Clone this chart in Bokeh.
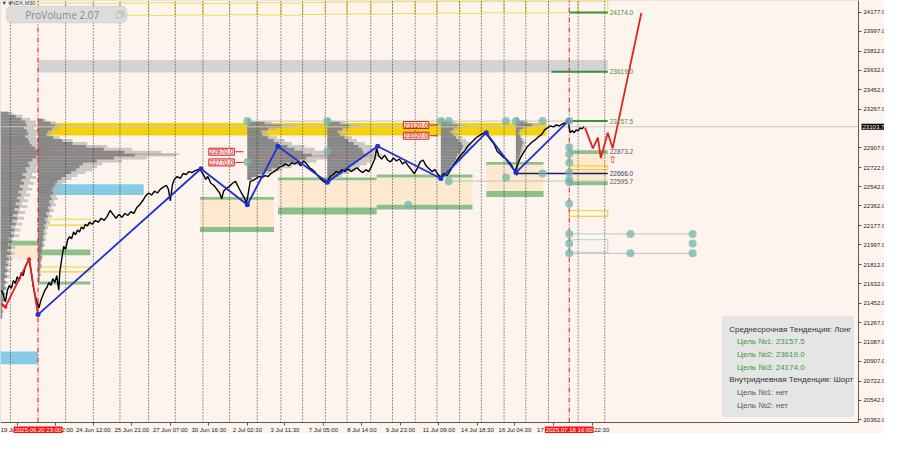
from bokeh.plotting import figure
from bokeh.models import Range1d, FixedTicker, PrintfTickFormatter, Label, BoxAnnotation, LinearAxis
from bokeh.core.properties import value
from bokeh.embed import file_html
from bokeh.resources import INLINE

# ---------------- data ----------------
time_tick_bar = [19, 58, 96, 135, 174, 213, 252, 290, 329, 368, 407, 446, 485, 523, 562, 602]
time_tick_label = ["19 Jun 2025", "23 Jun 02:00", "24 Jun 12:00", "25 Jun 21:00", "27 Jun 07:00",
                   "30 Jun 16:30", "2 Jul 02:30", "3 Jul 11:30", "7 Jul 05:00", "8 Jul 14:00",
                   "9 Jul 23:00", "11 Jul 09:00", "14 Jul 18:30", "16 Jul 04:30", "17 Jul 14:30",
                   "18 Jul 22:30"]
price_ticks = [20362, 20542, 20722, 20907, 21087, 21267, 21452, 21632, 21812, 21997, 22177,
               22362, 22542, 22722, 22907, 23267, 23452, 23632, 23812, 23997, 24177]
current_price = 23103.7

day_sep_bar = [12, 68, 96, 123, 152, 179, 207, 234, 262, 286, 308, 331, 353, 377, 399, 422,
               444, 467, 489, 512, 534, 557, 587, 614]
session_bar = [40, 578]
session_label = ["2025.06.20 23:00", "2025.07.18 16:00"]

close_bar = [3, 5, 7, 9, 11, 13, 15, 17, 19, 21, 23, 25, 27, 29, 31, 33, 35, 37, 39, 41, 43, 45, 47, 49, 51, 53, 55, 57, 59, 61,
             62, 64, 66, 68, 70, 72, 74, 76, 78, 80, 82, 84, 86, 88, 90, 92,
             95, 98, 101, 104, 107, 110, 113, 116, 119, 122, 125, 128, 131, 134, 137, 140, 143, 146, 149, 152, 155, 158, 161, 164, 167, 170,
             172, 174, 176, 178,
             181, 184, 187, 190, 193, 196, 199, 202, 205, 208,
             210, 212, 215, 218, 221, 224, 226, 228,
             231, 234, 237, 240, 243, 246, 249, 251, 253, 255,
             258, 261, 264, 267, 270, 273, 276, 279, 282, 285, 288, 291, 294, 297, 300, 303, 306, 309, 312, 315,
             318, 321, 324, 327, 330, 333, 336, 339, 342, 345, 348, 351, 354, 357, 360, 363, 366, 369, 372, 375, 378, 381,
             383, 385,
             388, 391, 394, 397, 400, 403, 406, 409, 412, 415, 418, 421, 424, 427, 430, 433, 436, 439, 442, 445,
             448, 451, 454, 457, 460, 463, 466, 469, 472, 475, 478, 481, 484, 487, 490, 493, 496, 499, 502, 505,
             508, 511, 514, 517, 520, 523, 526, 529, 532, 535, 538, 541, 544, 547, 550, 553, 556, 559, 562, 565,
             568, 571, 574, 577,
             579, 581, 583, 585, 587, 589, 591, 593]
close_px = [21573, 21527, 21464, 21573, 21618, 21591, 21664, 21637, 21700, 21664, 21737, 21710, 21791, 21828, 21864,
            21755, 21618, 21527, 21464, 21409, 21482, 21527, 21573, 21600, 21646, 21618, 21682, 21646, 21710, 21573,
            21737, 21864, 21983, 21955, 22046, 22074, 22056, 22119, 22092, 22137, 22119, 22165, 22147, 22192, 22174, 22210,
            22192, 22228, 22210, 22247, 22228, 22265, 22320, 22283, 22247, 22283, 22256, 22292, 22274, 22310, 22292, 22347,
            22374, 22411, 22456, 22484, 22465, 22502, 22484, 22520, 22538, 22556,
            22520, 22411, 22556, 22611,
            22638, 22620, 22666, 22657, 22684, 22675, 22693, 22702, 22693, 22647,
            22611, 22638, 22575, 22556, 22520, 22484, 22429, 22502,
            22529, 22547, 22575, 22593, 22538, 22484, 22438, 22383, 22484, 22593,
            22602, 22620, 22638, 22629, 22647, 22638, 22666, 22684, 22702, 22729, 22738, 22757, 22738, 22766, 22757,
            22775, 22738, 22784, 22757, 22720, 22702, 22675, 22638, 22611, 22584, 22593, 22638, 22657, 22684, 22675,
            22702, 22684, 22711, 22684, 22702, 22720, 22693, 22675, 22702, 22684, 22738, 22802,
            22902, 22830,
            22802, 22839, 22793, 22775, 22811, 22784, 22802, 22757, 22775, 22738, 22702, 22666, 22711, 22775, 22793,
            22738, 22711, 22684, 22702, 22657, 22629, 22666, 22647, 22684, 22738, 22775, 22811, 22848, 22875, 22921,
            22948, 22975, 23003, 23021, 23039, 23048, 23012, 22975, 22939, 22875, 22848, 22820, 22802, 22775, 22738,
            22684, 22757, 22820, 22866, 22911, 22939, 22966, 22984, 23012, 23030, 23075, 23094, 23112, 23103, 23121,
            23112, 23130, 23139, 23148,
            23048, 23066, 23048, 23075, 23066, 23094, 23084, 23104]

zz_blue_bar = [40, 205, 252, 283, 333, 384, 448, 494, 524, 577]
zz_blue_px = [21345, 22711, 22374, 22921, 22584, 22921, 22620, 23048, 22675, 23157]
zz_red_hist_bar = [3, 7, 31, 40]
zz_red_hist_px = [21446, 21418, 21864, 21345]
red_dot_bar = [7, 31]
red_dot_px = [21418, 21864]
zz_red_proj_bar = [594, 602, 607, 610, 617, 622, 651]
zz_red_proj_px = [23094, 22902, 23003, 22811, 23048, 22902, 24168]
arrow_bar = [622]
arrow_px = [22802]

# volume profiles: anchor bar, top price level, row step, row widths (bars)
prof_step = 27.3
profA_anchor, profA_top = 2, 23230
profA_w = [12, 22, 30, 36, 38, 34, 38, 40, 36, 40, 42, 45, 50, 55, 60, 52, 46, 40, 42, 36, 38, 32, 36, 30, 34, 28,
           32, 26, 30, 24, 28, 22, 27, 20, 25, 18, 24, 17, 22, 15, 20, 14, 19, 12, 17, 11, 15, 10, 14, 9, 12, 8, 11,
           7, 10, 6, 9, 5, 8, 5, 7, 4, 6, 3, 5, 3, 4, 2, 3, 2, 2]
profB_anchor, profB_top = 40, 23166
profB_w = [8, 18, 24, 20, 14, 12, 22, 35, 50, 70, 95, 125, 140, 110, 85, 65, 60, 55, 48, 40, 34, 28, 25, 22, 20, 22,
           18, 20, 16, 18, 14, 16, 12, 14, 10, 12, 9, 10, 8, 9, 7, 8, 6, 7, 5, 6, 4, 5, 4, 3, 4, 3, 2, 3, 2, 2, 1]
profC_anchor, profC_top = 252, 23166
profC_w = [4, 25, 48, 30, 20, 22, 30, 38, 45, 58, 68, 80, 93, 85, 70, 55, 45, 35, 25, 15, 6]
profD_anchor, profD_top = 333, 23166
profD_w = [3, 18, 32, 22, 15, 18, 25, 30, 38, 45, 50, 52, 55, 50, 45, 40, 33, 28, 22, 15, 9, 4]
profE_anchor, profE_top = 448, 23166
profE_w = [3, 15, 25, 18, 14, 18, 22, 26, 30, 32, 30, 28, 24, 22, 20, 17, 14, 11, 7, 4]
profF_anchor, profF_top = 524, 23175
profF_w = [3, 12, 23, 10, 5, 4, 6, 8, 10, 9, 8, 7, 6, 5, 4, 4, 3, 3, 2, 2]

# zones: left bar, right bar, top price, bottom price
beige_l = [2, 204, 283, 383, 494, 578]
beige_r = [40, 279, 383, 480, 552, 617]
beige_t = [21992, 22420, 22602, 22629, 22748, 22873]
beige_b = [21864, 22165, 22347, 22374, 22502, 22580]

green_l = [2, 40, 40, 204, 204, 283, 283, 383, 383, 494, 494, 578, 578]
green_r = [40, 93, 93, 279, 279, 383, 383, 480, 480, 552, 552, 617, 617]
green_t = [22037, 21955, 21655, 22447, 22165, 22629, 22347, 22657, 22374, 22775, 22502, 22884, 22593]
green_b = [21992, 21901, 21628, 22420, 22119, 22602, 22283, 22629, 22329, 22748, 22447, 22850, 22556]

sky_l = [40, 2]
sky_r = [147, 40]
sky_t = [22565, 21000]
sky_b = [22465, 20881]

gold_l, gold_r, gold_t, gold_b = [40], [555], [23139], [23021]
grayband_l, grayband_r, grayband_t, grayband_b = [40], [617], [23728], [23612]

ybox_l = [40, 40, 578, 578]
ybox_r = [93, 93, 617, 617]
ybox_t = [22238, 21791, 22738, 22320]
ybox_b = [22183, 21746, 22702, 22265]
bbox_l, bbox_r, bbox_t, bbox_b = [578], [617], [22046], [21928]

day_box_edges = [40, 68, 96, 123, 152, 179, 207, 234, 262, 286, 308, 331, 353, 377, 399, 422, 444, 467,
                 489, 512, 534, 557, 587, 617]
day_box_hi = [24262, 24262, 24258, 24262, 24265, 24262, 24258, 24262, 24265, 24262, 24268, 24270, 24272,
              24270, 24275, 24272, 24278, 24276, 24280, 24280, 24278, 24280, 24280]
day_box_lo = [24150, 24145, 24150, 24148, 24145, 24150, 24148, 24152, 24150, 24148, 24155, 24158, 24160,
              24158, 24165, 24160, 24168, 24165, 24172, 24170, 24168, 24172, 24170]

node_bar = [252, 252, 333, 333, 448, 456, 456, 415, 514, 524, 551, 514, 551, 578, 578, 578, 578, 578, 578,
            578, 578, 578, 640, 703, 578, 703, 578, 640, 703]
node_px = [23157, 22775, 23157, 22875, 23157, 23157, 22593, 22374, 23157, 23157, 23157, 22629, 22666, 23157,
           22911, 22848, 22766, 22675, 22611, 22584, 22383, 22101, 22101, 22101, 22010, 22010, 21919, 21919, 21919]

thin_x0 = [578, 578, 455, 252]
thin_x1 = [703, 703, 617, 578]
thin_px = [22101, 21919, 22595.7, 23157]
poc_x0 = [2, 252]
poc_x1 = [183, 380]
poc_px = [22848, 22830]

target_x0 = [578, 560, 578]
target_x1 = [617, 617, 617]
target_px = [24174.0, 23619.0, 23157.5]
level_px = [24174.0, 23619.0, 23157.5, 22873.2, 22666.0, 22595.7]
level_color = ["#3c8f3c", "#3c8f3c", "#3c8f3c", "#555555", "#3a3a6a", "#555555"]
navy_x0, navy_x1, navy_px = [524], [617], [22666.0]
level_label_bar = 619

mark_bar = [213, 213, 410, 410]
mark_px = [22870.0, 22770.0, 23120.0, 23020.0]

info_lines = ["Среднесрочная Тенденция: Лонг", "Цель №1: 23157.5", "Цель №2: 23619.0", "Цель №3: 24174.0",
              "Внутридневная Тенденция: Шорт", "Цель №1: нет", "Цель №2: нет"]

# ---------------- styling / layout ----------------
BG = "#fdf4ee"
FONT = "Liberation Sans"
CHART_L, CHART_R = 2, 871          # chart area (bars)
CHART_B, CHART_T = 20335, 24286    # chart area (price)


def row(py):
    """reference pixel row -> price (used only to place annotation boxes)"""
    return 24304.5 - 9.105 * py


# the frame also covers the axis strips so that the axis-highlight labels are not clipped
p = figure(width=884, height=433, x_range=Range1d(CHART_L, 897.3), y_range=Range1d(20232, CHART_T),
           output_backend="svg", toolbar_location=None, x_axis_location=None, y_axis_location=None,
           background_fill_color=BG, border_fill_color=BG,
           min_border_left=0, min_border_top=0, min_border_right=0, min_border_bottom=0)
p.grid.visible = False
p.outline_line_color = None

ya = LinearAxis(fixed_location=CHART_R, bounds=(CHART_B, CHART_T))
ya.ticker = FixedTicker(ticks=price_ticks)
ya.formatter = PrintfTickFormatter(format="%.1f")
xa = LinearAxis(fixed_location=CHART_B, bounds=(CHART_L, CHART_R))
xa.ticker = FixedTicker(ticks=time_tick_bar)
xa.major_label_overrides = {b: s for b, s in zip(time_tick_bar, time_tick_label)}
for ax in (xa, ya):
    ax.major_label_text_font = FONT
    ax.major_label_text_font_size = "6px"
    ax.major_label_text_color = "#222222"
    ax.axis_line_color = "#555555"
    ax.major_tick_line_color = "#555555"
    ax.major_tick_in = 0
    ax.major_tick_out = 3
    ax.minor_tick_line_color = None
    ax.major_label_standoff = 2
p.add_layout(xa, "below")
p.add_layout(ya, "right")

# top daily boxes
p.quad(left=day_box_edges[:-1], right=day_box_edges[1:], top=day_box_hi, bottom=day_box_lo,
       fill_color=None, line_color="#f2dc5a", line_width=1)

# zones
p.quad(left=grayband_l, right=grayband_r, top=grayband_t, bottom=grayband_b, fill_color="#d3d3d3", line_color=None)
p.quad(left=beige_l, right=beige_r, top=beige_t, bottom=beige_b, fill_color="#fbe6c9", fill_alpha=0.85, line_color=None)
p.quad(left=gold_l, right=gold_r, top=gold_t, bottom=gold_b, fill_color="#f6d20e", line_color=None)
p.quad(left=green_l, right=green_r, top=green_t, bottom=green_b, fill_color="#8dbf8a", line_color=None)
p.quad(left=sky_l, right=sky_r, top=sky_t, bottom=sky_b, fill_color="#86cbe6", line_color=None)
p.quad(left=ybox_l, right=ybox_r, top=ybox_t, bottom=ybox_b, fill_color=None, line_color="#f0d33a", line_width=1.2)
p.quad(left=bbox_l, right=bbox_r, top=bbox_t, bottom=bbox_b, fill_color=None, line_color="#a8d4e6", line_width=1)

# volume profiles
for anchor, top, widths in [(profA_anchor, profA_top, profA_w), (profB_anchor, profB_top, profB_w),
                            (profC_anchor, profC_top, profC_w), (profD_anchor, profD_top, profD_w),
                            (profE_anchor, profE_top, profE_w), (profF_anchor, profF_top, profF_w)]:
    ys = [top - i * prof_step for i in range(len(widths))]
    p.hbar(y=ys, left=anchor, right=[anchor + w for w in widths], height=prof_step,
           fill_color="#b4b4b4", fill_alpha=0.7, line_color=None)
    p.hbar(y=ys, left=anchor, right=[anchor + 0.7 * w for w in widths], height=prof_step,
           fill_color="#7c7c7c", fill_alpha=0.85, line_color=None)

# thin level lines
p.segment(x0=thin_x0, x1=thin_x1, y0=thin_px, y1=thin_px, line_color="#c4c4c4", line_width=1)
p.segment(x0=poc_x0, x1=poc_x1, y0=poc_px, y1=poc_px, line_color="#e06060", line_alpha=0.6, line_width=1)
p.segment(x0=[CHART_L], x1=[CHART_R], y0=[current_price], y1=[current_price], line_color="#c8c8c8", line_width=1)

# separators
p.segment(x0=day_sep_bar, x1=day_sep_bar, y0=CHART_B, y1=CHART_T, line_color="#333333", line_dash="1 2",
          line_width=1)
p.segment(x0=session_bar, x1=session_bar, y0=CHART_B, y1=CHART_T, line_color="#e01010", line_dash="5 2 1 2",
          line_width=1)

# price + zigzags
p.line(close_bar, close_px, line_color="black", line_width=1.4)
p.line(zz_red_hist_bar, zz_red_hist_px, line_color="#e3201b", line_width=1.8)
p.scatter(red_dot_bar, red_dot_px, size=4, fill_color="#e3201b", line_color=None)
p.line(zz_blue_bar, zz_blue_px, line_color="#1f30d2", line_width=1.8)
p.scatter(zz_blue_bar, zz_blue_px, size=5, fill_color="#1f30d2", line_color=None)
p.line(zz_red_proj_bar, zz_red_proj_px, line_color="#e3201b", line_width=1.8)
p.text(x=arrow_bar, y=arrow_px, text=["⇧"], text_font=value("DejaVu Sans"), text_font_size="10px",
       text_color="#e3201b", text_align="center", text_baseline="middle")

# targets
p.segment(x0=target_x0, x1=target_x1, y0=target_px, y1=target_px, line_color="#3c8f3c", line_width=2)
p.segment(x0=navy_x0, x1=navy_x1, y0=navy_px, y1=navy_px, line_color="#1c1c6c", line_width=1.5)
p.text(x=[level_label_bar] * len(level_px), y=level_px, text=["%.1f" % v for v in level_px],
       text_font=value(FONT), text_font_size="6.5px", text_color=level_color, text_baseline="middle")

# nodes
p.scatter(node_bar, node_px, size=8, fill_color="#74b6ac", fill_alpha=0.75, line_color=None)

# red boxed level marks
for b, v in zip(mark_bar, mark_px):
    p.segment(x0=[b + 27], x1=[b + 35], y0=[v], y1=[v], line_color="#d02020", line_width=1)
    p.add_layout(Label(x=b, y=v, text="%.1f" % v, text_font=FONT, text_font_size="6.5px", text_color="#d02020",
                       text_baseline="middle", background_fill_color="#fde0e0", background_fill_alpha=0.7,
                       border_line_color="#d02020", padding=1))

# chart border (top / left; right and bottom are the axis lines)
p.add_layout(BoxAnnotation(left=CHART_L, right=CHART_R, top=CHART_T, bottom=CHART_B, fill_color=None,
                           line_color="#6a6a6a", line_width=1))

# symbol + ProVolume button
p.add_layout(Label(x=3, y=row(5), text="▼ #NDX,M30", text_font=FONT, text_font_size="5.5px",
                   text_color="#333333", text_baseline="middle"))
p.add_layout(BoxAnnotation(left=8, right=130, top=row(8), bottom=row(25), fill_color="#dcdcdc", fill_alpha=1,
                           line_color="#b0b0b0", border_radius=5))
p.add_layout(Label(x=27, y=row(16.5), text="ProVolume 2.07", text_font="Open Sans", text_font_size="10px",
                   text_color="#8a8a8a", text_baseline="middle"))
p.add_layout(BoxAnnotation(left=121, right=127, top=row(13), bottom=row(18), fill_color="#d0d0d0", fill_alpha=1,
                           line_color="#8a8a8a"))
p.add_layout(BoxAnnotation(left=119, right=125, top=row(15), bottom=row(20), fill_color="#dcdcdc", fill_alpha=1,
                           line_color="#8a8a8a"))

# info panel
p.add_layout(BoxAnnotation(left=733, right=866, top=row(327), bottom=row(430), fill_color="#e5e5e5", fill_alpha=1,
                           line_color="#d4d4d4", border_radius=3))
info_color = ["#333333", "#3a9a3a", "#3a9a3a", "#3a9a3a", "#333333", "#5a5a5a", "#5a5a5a"]
info_indent = [740, 748, 748, 748, 740, 748, 748]
for i, (txt, col, xi) in enumerate(zip(info_lines, info_color, info_indent)):
    p.add_layout(Label(x=xi, y=row(340 + 13 * i), text=txt, text_font=FONT, text_font_size="8px",
                       text_color=col, text_baseline="middle"))

# session labels on time axis + current price label on price axis
for b, s in zip(session_bar, session_label):
    p.add_layout(Label(x=b, y=CHART_B, y_offset=-4, text=s, text_font=FONT, text_font_size="6px",
                       text_color="white", text_align="center", text_baseline="top",
                       background_fill_color="#ff1010", padding=1, level="overlay"))
p.add_layout(Label(x=CHART_R, x_offset=3, y=current_price, text="%.1f" % current_price, text_font=FONT,
                   text_font_size="6px", text_color="white", text_baseline="middle",
                   background_fill_color="black", padding=1, level="overlay"))

open("out.html", "w").write(file_html(p, INLINE))
